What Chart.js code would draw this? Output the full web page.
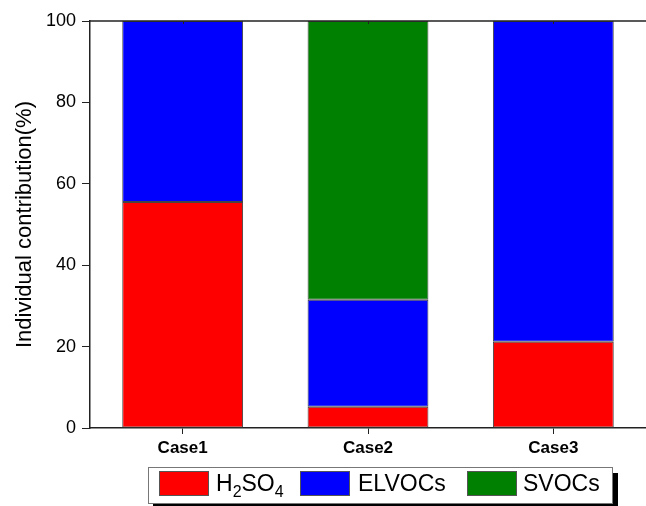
<!DOCTYPE html>
<html>
<head>
<meta charset="utf-8">
<script src="https://cdn.jsdelivr.net/npm/chart.js@4.4.0/dist/chart.umd.min.js"></script>
<style>
  html, body { margin: 0; padding: 0; background: #fff; }
  #wrap { position: relative; width: 646px; height: 506px; overflow: hidden; }
  #legend {
    position: absolute; left: 148px; top: 467px; width: 465px; height: 37px;
    box-sizing: border-box; border: 1px solid #777; background: #fff;
    box-shadow: 5px 6px 0 #000;
    font-family: "Liberation Sans", Arial, sans-serif; font-size: 23px; color: #000;
  }
  .sw { position: absolute; top: 3px; width: 50px; height: 25px; box-sizing: border-box; border: 1px solid #555; }
  .tx { position: absolute; top: 4px; line-height: 23px; white-space: nowrap; }
  .sub { font-size: 16px; position: relative; top: 6px; }
</style>
</head>
<body>
<div id="wrap">
  <canvas id="c" width="646" height="506"></canvas>
  <div id="legend"></div>
</div>
<script>
const categories = ["Case1", "Case2", "Case3"];
const h2so4 = [55.5, 5.2, 21.2];
const elvocs = [44.5, 26.3, 78.8];
const svocs = [0, 68.5, 0];
const yTicks = [0, 20, 40, 60, 80, 100];
const seriesNames = ["H2SO4", "ELVOCs", "SVOCs"];
const seriesLabelsHtml = ["H<span class=\"sub\">2</span>SO<span class=\"sub\">4</span>", "ELVOCs", "SVOCs"];
const colors = ["#ff0000", "#0000ff", "#008000"];

const FONT = "'Liberation Sans', Arial, sans-serif";
const AXIS = "#222";

// HTML legend
(function () {
  const lg = document.getElementById('legend');
  const swLeft = [10, 151, 318];
  const txLeft = [67, 209, 374];
  seriesNames.forEach((n, i) => {
    const s = document.createElement('div');
    s.className = 'sw'; s.style.left = swLeft[i] + 'px'; s.style.background = colors[i];
    lg.appendChild(s);
    const t = document.createElement('div');
    t.className = 'tx'; t.style.left = txLeft[i] + 'px'; t.innerHTML = seriesLabelsHtml[i];
    lg.appendChild(t);
  });
})();

const topFrame = {
  id: 'topFrame',
  afterDraw(chart) {
    const { ctx, chartArea } = chart;
    const xs = chart.scales.x;
    ctx.save();
    ctx.strokeStyle = AXIS;
    ctx.lineWidth = 1.5;
    ctx.beginPath();
    ctx.moveTo(chartArea.left, chartArea.top);
    ctx.lineTo(chartArea.right, chartArea.top);
    ctx.stroke();
    ctx.lineWidth = 1;
    categories.forEach((c, i) => {
      const px = Math.round(xs.getPixelForValue(i)) + 0.5;
      ctx.beginPath();
      ctx.moveTo(px, chartArea.top);
      ctx.lineTo(px, chartArea.top + 3);
      ctx.stroke();
    });
    ctx.restore();
  }
};

const mk = (label, data, color) => ({
  label, data, backgroundColor: color, borderColor: '#444', borderWidth: 1,
  borderSkipped: false, categoryPercentage: 1.0, barPercentage: 0.652
});

new Chart(document.getElementById('c'), {
  type: 'bar',
  data: {
    labels: categories,
    datasets: [
      mk(seriesNames[0], h2so4, colors[0]),
      mk(seriesNames[1], elvocs, colors[1]),
      mk(seriesNames[2], svocs, colors[2])
    ]
  },
  options: {
    responsive: false,
    animation: false,
    devicePixelRatio: 1,
    layout: { padding: { top: 21, right: 0, bottom: 0, left: 0 } },
    plugins: { legend: { display: false }, tooltip: { enabled: false } },
    scales: {
      x: {
        stacked: true,
        afterFit(s) { s.height = 78; },
        grid: { display: true, drawOnChartArea: false, offset: false, tickLength: 6, color: AXIS, lineWidth: 1 },
        border: { display: true, color: AXIS, width: 1.5 },
        ticks: { color: '#000', padding: 4, font: { family: FONT, size: 17, weight: 'bold' } }
      },
      y: {
        stacked: true,
        min: 0, max: 100,
        afterFit(s) { s.width = 90; },
        afterBuildTicks(s) { s.ticks = yTicks.map(v => ({ value: v })); },
        grid: { display: true, drawOnChartArea: false, tickLength: 8, color: AXIS, lineWidth: 1 },
        border: { display: true, color: AXIS, width: 1.5 },
        ticks: { color: '#000', padding: 6, font: { family: FONT, size: 18 } },
        title: {
          display: true, text: 'Individual contribution(%)', color: '#000',
          font: { family: FONT, size: 22 }, padding: { top: 12, bottom: 0 }
        }
      }
    }
  },
  plugins: [topFrame]
});
</script>
</body>
</html>
